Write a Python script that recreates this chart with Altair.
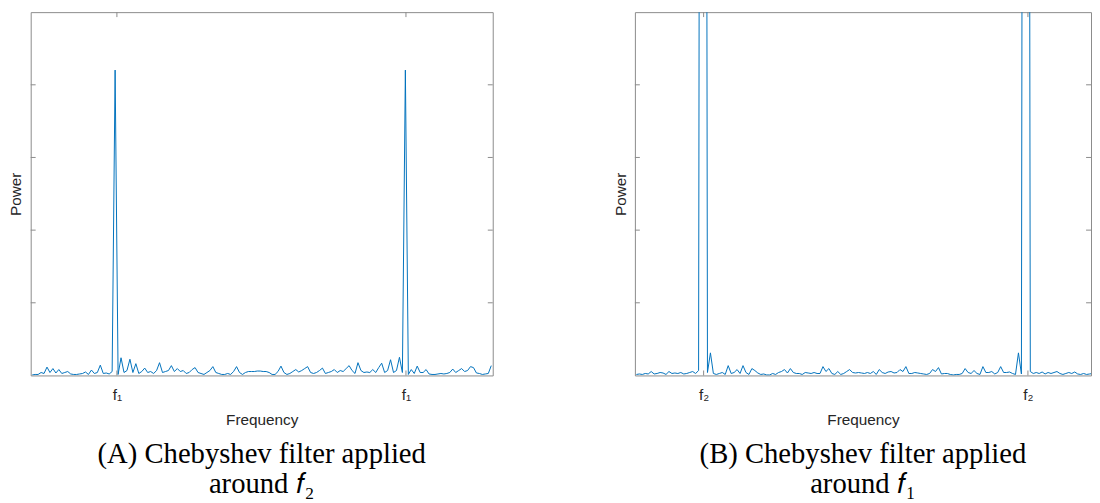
import altair as alt
import pandas as pd

# ---- data (power in arbitrary units, bins of the frequency axis) ----
bins_a = list(range(156))
power_a = [
    0.5, 1, 1, 3, 2, 8.5, 3, 7, 2.5, 6,
    2, 3, 4, 1.5, 1, 1, 1.5, 2, 3.5, 1,
    5.5, 2, 3, 10.5, 2, 2.5, 1.5, 4, 311, 1,
    18, 3, 5, 16.5, 3, 12, 2, 4, 7.5, 3,
    4, 2, 5, 13, 3, 4, 5, 10, 4, 7,
    4, 5, 2, 3, 6, 8, 3, 2, 1, 3,
    5, 9, 3, 2, 1, 1, 2, 1, 4, 9,
    3, 1, 3, 4, 4, 4, 4.5, 4.5, 4, 4,
    3, 1, 1, 4, 9.5, 3, 1, 2, 4, 6,
    3.5, 5, 7, 9, 3, 2, 3, 5, 7.5, 2,
    3, 4, 6, 3, 5, 4, 7, 10, 5, 2,
    13, 5, 3, 3.5, 3, 6, 3, 8, 12.5, 3,
    5, 16, 3, 5, 18.5, 3, 311, 1, 6, 2,
    9.5, 3, 3, 6, 1.5, 1, 1, 1.5, 2, 1.5,
    2, 3, 6.5, 3, 5, 7, 4, 5, 9, 8,
    2.5, 2, 1, 1.5, 2, 10,
]

bins_b = list(range(156))
power_b = [
    1, 1.5, 1, 2, 1.5, 4, 1.5, 2, 3, 2.5,
    1, 4, 2, 2.5, 2, 3, 1.5, 2, 3, 4,
    2, 5, 2000, 2000, 3, 23, 2, 1, 2, 3,
    1, 10, 2, 3, 6, 2, 10, 3, 1, 7,
    5, 2.5, 1, 1.5, 0.5, 0.5, 2, 1, 3, 4,
    6, 2.5, 7, 3, 2, 2, 1, 3, 2.5, 2,
    3, 2, 2, 9, 4, 7, 2, 1, 4, 1,
    2, 4, 6, 3, 2.5, 3, 2.5, 2, 3, 2,
    4, 1, 6, 3, 2, 3.5, 4, 2.5, 3, 6,
    4, 9, 2, 2, 3, 2.5, 2, 1.5, 1, 2,
    6, 4, 8, 1.5, 2, 2, 1, 0.5, 1, 1,
    2, 7, 3, 2, 5, 2, 1, 9, 3, 3,
    4, 1.5, 3, 9, 3, 3, 3.5, 2, 1, 23,
    1.5, 2000, 2000, 4, 2, 3, 2, 3.5, 1.5, 3,
    2, 3, 4, 2, 1, 2, 3, 2, 3.5, 1.5,
    1, 2, 1, 1.5, 2, 1,
]

ytick_vals = [74, 148, 222, 296]
ticks_a = [28.6, 126.2]
ticks_b = [22.7, 132.2]
label_a = "f\u2081"
label_b = "f\u2082"
caption_a = ["(A) Chebyshev filter applied", "around \U0001D453\u2082"]
caption_b = ["(B) Chebyshev filter applied", "around \U0001D453\u2081"]

H = 368
FRAME = "#8a8a8a"
LINE = "#0072BD"
TXT = "#262626"


def panel(bins, power, xdomain, xticks, label, width, caption):
    df = pd.DataFrame({"f": bins, "p": power})
    xs = alt.Scale(domain=xdomain, nice=False, zero=False)
    ys = alt.Scale(domain=[0, 370], nice=False)
    xax = alt.Axis(values=xticks, labelExpr=f"'{label}'", ticks=False,
                   domain=False, grid=False, title="Frequency",
                   labelPadding=12, titlePadding=10)
    yax = alt.Axis(labels=False, ticks=False, domain=False, grid=False,
                   title="Power", titlePadding=7)
    line = alt.Chart(df).mark_line(color=LINE, strokeWidth=1, clip=True).encode(
        x=alt.X("f:Q", scale=xs, axis=xax),
        y=alt.Y("p:Q", scale=ys, axis=yax),
    )
    ydf = pd.DataFrame({"v": ytick_vals})
    yl = alt.Chart(ydf).mark_rule(color=FRAME, strokeWidth=1).encode(
        y=alt.Y("v:Q", scale=ys, axis=yax), x=alt.value(0), x2=alt.value(5))
    yr = alt.Chart(ydf).mark_rule(color=FRAME, strokeWidth=1).encode(
        y=alt.Y("v:Q", scale=ys, axis=yax), x=alt.value(width - 5), x2=alt.value(width))
    xdf = pd.DataFrame({"t": xticks})
    xb = alt.Chart(xdf).mark_rule(color=FRAME, strokeWidth=1).encode(
        x=alt.X("t:Q", scale=xs, axis=xax), y=alt.value(H - 5), y2=alt.value(H))
    xt = alt.Chart(xdf).mark_rule(color=FRAME, strokeWidth=1).encode(
        x=alt.X("t:Q", scale=xs, axis=xax), y=alt.value(0), y2=alt.value(5))
    return alt.layer(line, yl, yr, xb, xt).properties(
        width=width, height=H,
        title=alt.TitleParams(text=caption, orient="bottom", anchor="middle",
                              font="Liberation Serif", fontSize=29, fontWeight="normal",
                              color="black", lineHeight=30, offset=13),
    )


left = panel(bins_a, power_a, [-0.5, 155.5], ticks_a, label_a, 468, caption_a)
right = panel(bins_b, power_b, [-0.5, 153.5], ticks_b, label_b, 462, caption_b)

chart = alt.hconcat(left, right, spacing=120).properties(
    padding={"left": 0, "top": 0, "right": 0, "bottom": 0}
).configure_view(stroke=FRAME, strokeWidth=1).configure_axis(
    labelFont="Liberation Sans", labelFontSize=15.5, labelColor=TXT,
    titleFont="Liberation Sans", titleFontSize=15.5, titleFontWeight="normal", titleColor=TXT,
)

chart.save("out.html", embed_options={"renderer": "svg", "actions": False})
